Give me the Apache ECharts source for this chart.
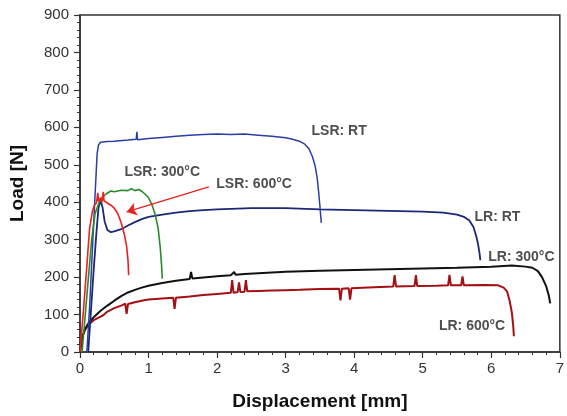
<!DOCTYPE html>
<html>
<head>
<meta charset="utf-8">
<script src="https://cdn.jsdelivr.net/npm/echarts@6/dist/echarts.min.js"></script>
<style>
  html, body { margin: 0; padding: 0; background: #fff; }
  #chart { width: 567px; height: 416px; }
</style>
</head>
<body>
<div id="chart"></div>
<script>
// axis ticks
const xTicks = [0, 1, 2, 3, 4, 5, 6, 7]
const yTicks = [0, 100, 200, 300, 400, 500, 600, 700, 800, 900]

// [displacement mm, load N]
const lsrRT = [[0.1,0],[0.14,120],[0.18,270],[0.22,420],[0.25,530],[0.27,553],[0.3,560],[0.4,562],[0.5,563],
  [0.7,566],[0.82,568],[0.83,588],[0.84,567],[1.0,570],[1.2,573],[1.4,576],[1.6,579],[1.8,581],[2.0,582],[2.2,581],
  [2.4,582],[2.6,579],[2.8,576],[3.0,572],[3.1,568],[3.2,563],[3.28,555],[3.34,543],[3.39,522],[3.43,497],
  [3.46,465],[3.48,430],[3.5,390],[3.52,345]]
const lrRT = [[0.12,0],[0.16,110],[0.2,220],[0.24,320],[0.27,385],[0.3,405],[0.33,385],[0.36,348],[0.4,326],
  [0.45,320],[0.5,322],[0.6,328],[0.7,338],[0.8,347],[0.9,355],[1.0,361],[1.2,367],[1.4,372],[1.6,376],
  [1.8,379],[2.0,381],[2.5,384],[3.0,384],[3.5,381],[4.0,379],[4.5,377],[5.0,375],[5.3,372],[5.5,367],
  [5.6,361],[5.68,351],[5.74,334],[5.78,310],[5.81,285],[5.83,262],[5.84,245]]
const lsr300 = [[0.03,0],[0.1,150],[0.17,300],[0.22,370],[0.28,400],[0.33,414],[0.38,422],[0.45,430],[0.5,428],
  [0.6,432],[0.7,431],[0.75,436],[0.8,431],[0.86,434],[0.91,428],[0.96,420],[1.0,412],[1.05,393],[1.1,365],
  [1.14,330],[1.17,280],[1.19,232],[1.2,196]]
const lsr600 = [[0,0],[0.05,110],[0.1,230],[0.14,330],[0.18,375],[0.21,392],[0.24,398],[0.26,425],[0.27,402],
  [0.3,412],[0.32,400],[0.34,428],[0.35,404],[0.4,398],[0.45,392],[0.5,384],[0.55,370],[0.6,346],[0.65,312],
  [0.68,282],[0.7,246],[0.71,205]]
const lr300 = [[0,0],[0.03,38],[0.07,60],[0.12,76],[0.2,93],[0.3,110],[0.4,124],[0.5,137],[0.6,149],[0.7,159],
  [0.8,166],[0.9,172],[1.0,177],[1.2,184],[1.4,190],[1.6,195],[1.62,214],[1.64,196],[1.8,199],[2.0,202],
  [2.2,205],[2.25,214],[2.27,206],[2.4,208],[2.6,210],[2.8,212],[3.0,214],[3.5,217],[4.0,219],[4.5,221],
  [5.0,223],[5.5,225],[6.0,228],[6.3,231],[6.5,228],[6.6,225],[6.68,216],[6.74,200],[6.8,176],[6.84,150],[6.86,130]]
const lr600 = [[0,0],[0.03,38],[0.07,58],[0.12,72],[0.2,85],[0.33,97],[0.4,108],[0.5,117],[0.6,124],[0.66,129],
  [0.68,102],[0.7,128],[0.8,133],[0.9,137],[1.0,140],[1.2,143],[1.36,145],[1.38,115],[1.4,145],[1.6,148],
  [1.8,152],[2.0,155],[2.2,158],[2.22,192],[2.24,158],[2.3,160],[2.32,186],[2.34,160],[2.4,161],[2.42,192],
  [2.44,162],[2.6,163],[2.8,164],[3.0,165],[3.2,166],[3.5,168],[3.78,169],[3.8,138],[3.82,169],[3.92,170],
  [3.94,140],[3.96,170],[4.2,172],[4.57,175],[4.59,205],[4.61,175],[4.88,176],[4.9,205],[4.92,176],[5.2,177],
  [5.37,178],[5.39,206],[5.41,178],[5.56,178],[5.58,202],[5.6,178],[5.9,179],[6.1,178],[6.18,172],[6.23,162],
  [6.27,135],[6.3,105],[6.32,70],[6.33,42]]

// annotation text and where it sits, in data units
const labelTexts = ['LSR: RT', 'LSR: 300°C', 'LSR: 600°C', 'LR: RT', 'LR: 300°C', 'LR: 600°C']
const labelAnchors = [[3.78,590],[1.2,480],[2.54,447],[6.09,359],[6.44,253],[5.72,69]]
const arrowFrom = [1.88,441]
const arrowTo = [0.68,374]

const labelData = labelTexts.map((t, i) => ({ value: labelAnchors[i], name: t }))

const chart = echarts.init(document.getElementById('chart'))

function curve(name, data, color, width) {
  return {
    name: name,
    type: 'line',
    data: data,
    showSymbol: false,
    animation: false,
    silent: true,
    lineStyle: { color: color, width: width },
    itemStyle: { color: color }
  }
}

const red600 = curve('LSR: 600°C', lsr600, '#e8221e', 1.6)
red600.markLine = {
  silent: true,
  animation: false,
  symbol: ['none', 'arrow'],
  symbolSize: 10,
  label: { show: false },
  lineStyle: { color: '#e8221e', width: 1.3, type: 'solid' },
  data: [[{ coord: arrowFrom }, { coord: arrowTo }]]
}

chart.setOption({
  backgroundColor: '#fff',
  animation: false,
  grid: {
    left: 80, right: 4, top: 15, bottom: 62,
    show: true, borderColor: '#333', borderWidth: 1.5
  },
  xAxis: {
    type: 'value',
    min: xTicks[0], max: xTicks[xTicks.length - 1], interval: 1,
    name: 'Displacement [mm]',
    nameLocation: 'middle',
    nameGap: 40,
    nameTextStyle: { fontFamily: 'Liberation Sans', fontWeight: 'bold', fontSize: 19, color: '#111' },
    axisLine: { show: true, onZero: false, lineStyle: { color: '#333', width: 1.5 } },
    axisTick: { show: true, inside: false, length: 6, lineStyle: { color: '#333', width: 1.2 } },
    minorTick: { show: true, splitNumber: 5, length: 3, lineStyle: { color: '#333', width: 1 } },
    axisLabel: { margin: 9, fontFamily: 'Liberation Sans', fontSize: 15, color: '#333' },
    splitLine: { show: false }
  },
  yAxis: {
    type: 'value',
    min: yTicks[0], max: yTicks[yTicks.length - 1], interval: 100,
    name: 'Load [N]',
    nameLocation: 'middle',
    nameGap: 53,
    nameRotate: 90,
    nameTextStyle: { fontFamily: 'Liberation Sans', fontWeight: 'bold', fontSize: 19, color: '#111' },
    axisLine: { show: true, onZero: false, lineStyle: { color: '#333', width: 1.5 } },
    axisTick: { show: true, inside: false, length: 6, lineStyle: { color: '#333', width: 1.2 } },
    minorTick: { show: true, splitNumber: 5, length: 3, lineStyle: { color: '#333', width: 1 } },
    axisLabel: { margin: 11, fontFamily: 'Liberation Sans', fontSize: 15, color: '#333' },
    splitLine: { show: false }
  },
  series: [
    curve('LR: 600°C', lr600, '#a30f12', 2),
    curve('LR: 300°C', lr300, '#111111', 2),
    curve('LR: RT', lrRT, '#1b2777', 1.8),
    curve('LSR: RT', lsrRT, '#2a3ea6', 1.5),
    curve('LSR: 300°C', lsr300, '#2a8a2a', 1.6),
    red600,
    {
      type: 'scatter',
      data: labelData,
      symbolSize: 0,
      silent: true,
      animation: false,
      label: {
        show: true,
        position: 'inside',
        formatter: p => p.name,
        fontFamily: 'Liberation Sans',
        fontWeight: 'bold',
        fontSize: 14,
        color: '#222'
      }
    }
  ]
})
</script>
</body>
</html>
